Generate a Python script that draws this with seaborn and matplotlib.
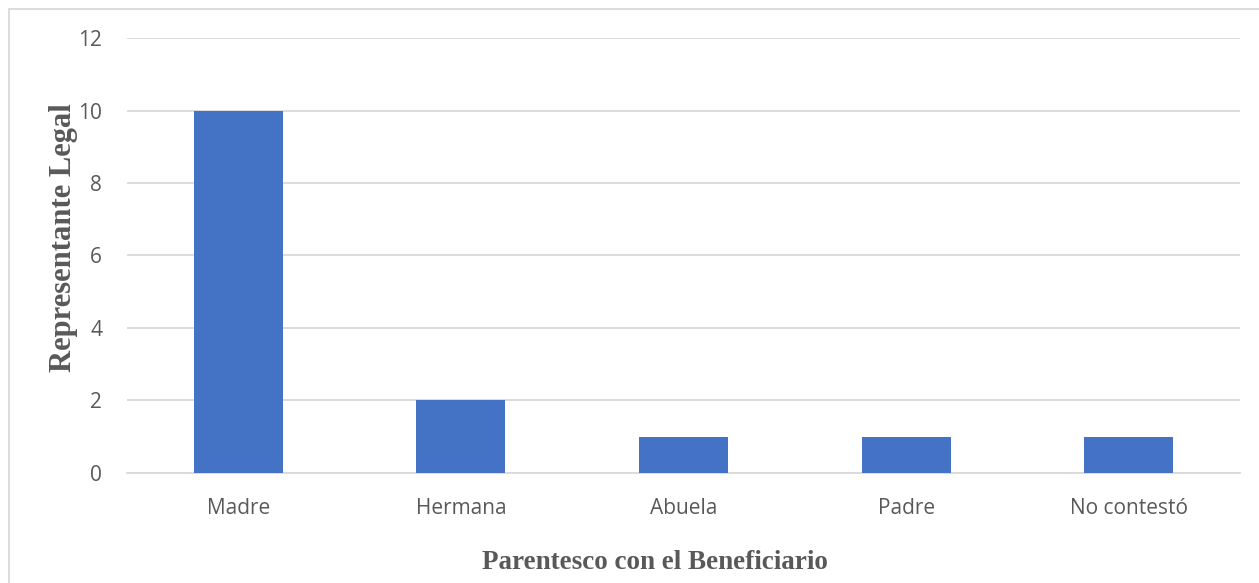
import matplotlib
matplotlib.use("Agg")
import matplotlib.pyplot as plt
import seaborn as sns
import pandas as pd

# Datos del grafico
parentesco = ["Madre", "Hermana", "Abuela", "Padre", "No contestó"]
cantidad = [10, 2, 1, 1, 1]
y_ticks = [0, 2, 4, 6, 8, 10, 12]

df = pd.DataFrame({"parentesco": parentesco, "cantidad": cantidad})

sns.set_style("white")
plt.rcParams["font.family"] = ["Open Sans", "DejaVu Sans"]

fig = plt.figure(figsize=(12.59, 5.83), dpi=100)
ax = fig.add_axes([0.1009, 0.1887, 0.8841, 0.7461])

sns.barplot(data=df, x="parentesco", y="cantidad", color="#4472C4",
            width=0.4, saturation=1, ax=ax, zorder=3, linewidth=0)

ax.set_ylim(0, 12)
ax.set_yticks(y_ticks)
ax.yaxis.grid(True, color="#D9D9D9", linewidth=1.3, zorder=0)
for s in ["top", "right", "left"]:
    ax.spines[s].set_visible(False)
ax.spines["bottom"].set_color("#D9D9D9")
ax.spines["bottom"].set_linewidth(1.3)
ax.tick_params(axis="both", length=0, labelsize=15, labelcolor="#595959")
ax.tick_params(axis="x", pad=18)
ax.tick_params(axis="y", pad=18)

ax.set_xlabel("Parentesco con el Beneficiario", family="Liberation Serif",
              fontweight="bold", fontsize=19.5, color="#595959")
ax.set_ylabel("Representante Legal", family="Liberation Serif",
              fontweight="bold", fontsize=22, color="#595959")
ax.xaxis.set_label_coords(0.474, -0.176)
ax.yaxis.set_label_coords(-0.044, 0.54)

# marco del grafico
fig.patches.append(plt.Rectangle((0.0072, -0.01), 1.0, 0.995, transform=fig.transFigure,
                                 fill=False, edgecolor="#D9D9D9", linewidth=1.3))

fig.savefig("out.png", dpi=100)
